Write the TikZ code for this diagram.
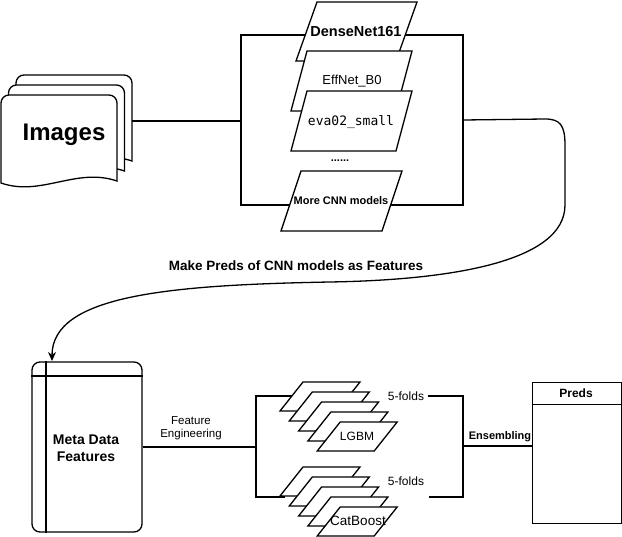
\documentclass[tikz,border=0pt]{standalone}
\usepackage{fontspec}
\setmainfont{Liberation Sans}
\newfontfamily\monof{DejaVu Sans Mono}
\usetikzlibrary{arrows.meta}
\newcommand\fs[1]{\fontsize{#1}{#1}\selectfont}
\newcommand\docpage[2]{%
  \draw[fill=white] (#1,#2+88) [rounded corners=8pt]-- (#1,#2) -- (#1+116,#2) [sharp corners]-- (#1+116,#2+86)
    .. controls (#1+75,#2+72) and (#1+40,#2+102) .. (#1,#2+88) -- cycle;}
\newcommand\plgm[5]{%
  \draw[fill=white] (#1,#2) -- ++(#3,0) -- ++(-#5,#4) -- ++(-#3,0) -- cycle;}
\begin{document}
\begin{tikzpicture}[x=1pt,y=-1pt,line width=1.3pt,
  lbl/.style={inner sep=0pt,font=\fs{12}},
  blbl/.style={inner sep=0pt,font=\bfseries\fs{12}},
  conn/.style={line width=1.3pt}]
\useasboundingbox (0,0) rectangle (622,537);
% Images stack
\docpage{16}{75}
\docpage{8.5}{85}
\docpage{1}{95}
\node[blbl,font=\bfseries\fs{24}] (img) at (64,135) {Images};
\coordinate (imgR) at (132,121);
% CNN box
\node[draw,minimum width=222,minimum height=170,inner sep=0pt] (cnnbox) at (352,120) {};
\draw[conn] (imgR) -- (cnnbox.west |- imgR);
\plgm{317}{2}{100}{59}{21}
\node[blbl,font=\bfseries\fs{14.5}] (dn) at (356,32) {DenseNet161};
\plgm{307}{51}{105}{60}{16}
\node[lbl,font=\fs{13}] (ef) at (352,81) {EffNet\_B0};
\plgm{307}{91}{105}{60}{16}
\node[lbl,font=\monof\fs{13}] (eva) at (351,122) {eva02\_small};
\node[blbl,font=\bfseries\fs{11}] (dots) at (340,161) {......};
\plgm{301}{171}{101}{60}{20}
\node[blbl,font=\bfseries\fs{11}] (more) at (341,201) {More CNN models};
% curve
\draw[conn,-{Stealth[length=9pt,width=8pt]}] (cnnbox.east) -- (545,119)
  .. controls (560,119) and (565,125) .. (565,145) -- (565,205)
  .. controls (565,262) and (450,280) .. (330,282)
  .. controls (170,285) and (52,295) .. (52,361);
\node[blbl,font=\bfseries\fs{13.5}] (mk) at (296,266) {Make Preds of CNN models as Features};
% Meta data
\node[draw,rounded corners=8pt,minimum width=110,minimum height=170,inner sep=0pt] (meta) at (87,447) {};
\draw (meta.north west -| 46,0) -- (meta.south west -| 46,0);
\draw (meta.north west |- 0,376) -- (meta.north east |- 0,376);
\node[blbl,font=\bfseries\fs{14},align=center] (mtxt) at (86,448) {Meta Data\\[3pt]Features};
\coordinate (lb) at (256,447);
\draw[conn] (meta.east) -- (lb);
\node[lbl,font=\fs{11.5},align=center] (fe) at (191,428) {Feature\\[2pt]Engineering};
\draw[conn] (293,396) -- (256,396) -- (256,497) -- (285,497);
\foreach \i in {0,...,4} {\plgm{303+9.3*\i}{382+10*\i}{57}{29}{23}}
\node[lbl] (lgbm) at (357,436) {LGBM};
\foreach \i in {0,...,4} {\plgm{303+9.3*\i}{467+10*\i}{57}{29}{23}}
\node[lbl,font=\fs{13.5}] (cat) at (358,521) {CatBoost};
\node[lbl] (f1) at (406,396) {5-folds};
\node[lbl] (f2) at (406,481) {5-folds};
\coordinate (rb) at (463,446);
\draw[conn] (428,396) -- (463,396) -- (463,497) -- (429,497);
% Preds
\node[draw,line width=0.9pt,minimum width=89,minimum height=141,inner sep=0pt] (preds) at (576.5,452.5) {};
\draw[line width=0.9pt] (preds.west |- 0,404) -- (preds.east |- 0,404);
\node[blbl] (pt) at (576,393) {Preds};
\draw[conn] (rb) -- (preds.west |- rb);
\node[blbl,font=\bfseries\fs{11}] (ens) at (500,437) {Ensembling};
\end{tikzpicture}
\end{document}
